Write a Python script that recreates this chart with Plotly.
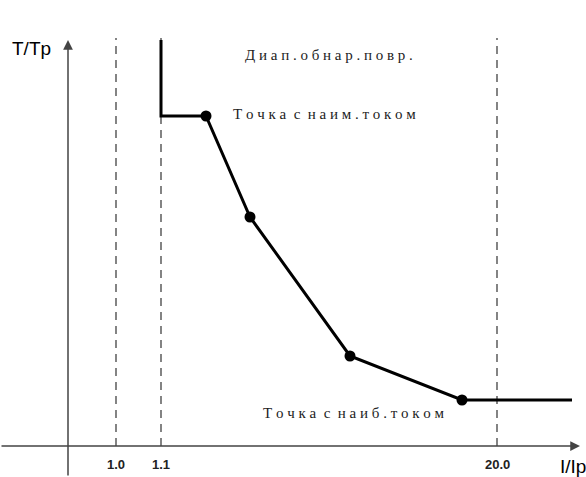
import plotly.graph_objects as go

# schematic coordinates (origin at the axes crossing)
tick_pos = [48, 93, 429]
tick_text = ["1.0", "1.1", "20.0"]

curve_x = [93, 93, 138, 182, 282, 394, 504]
curve_y = [406, 330, 330, 229, 90, 46, 46]

pts_x = [138, 182, 282, 394]
pts_y = [330, 229, 90, 46]

dash_top = 408

NB = "\u00a0"
def spaced(s):
    return NB.join(s)

labels = [
    dict(x=261, y=391, text=spaced("Диап.обнар.повр.")),
    dict(x=256, y=332, text=spaced("Точка") + NB * 2 + spaced("с") + NB * 2 + spaced("наим.током")),
    dict(x=285, y=33, text=spaced("Точка") + NB * 2 + spaced("с") + NB * 2 + spaced("наиб.током")),
]

fig = go.Figure()

# dashed vertical guides
for xp in tick_pos:
    fig.add_trace(go.Scatter(x=[xp, xp], y=[0, dash_top], mode="lines",
                             line=dict(color="#333", width=1.2, dash="8px,6px"),
                             hoverinfo="skip", showlegend=False))

fig.add_trace(go.Scatter(x=curve_x, y=curve_y, mode="lines",
                         line=dict(color="black", width=3),
                         showlegend=False))
fig.add_trace(go.Scatter(x=pts_x, y=pts_y, mode="markers",
                         marker=dict(color="black", size=11),
                         showlegend=False))

annots = []
# axes with arrows
annots.append(dict(x=512, y=0, ax=-68, ay=0, xref="x", yref="y", axref="x", ayref="y",
                   text="", showarrow=True, arrowhead=2, arrowsize=1.3, arrowwidth=1.5,
                   arrowcolor="#444"))
annots.append(dict(x=0, y=406, ax=0, ay=-31, xref="x", yref="y", axref="x", ayref="y",
                   text="", showarrow=True, arrowhead=2, arrowsize=1.3, arrowwidth=1.5,
                   arrowcolor="#444"))

for xp, t in zip(tick_pos, tick_text):
    annots.append(dict(x=xp, y=-18, text="<b>" + t + "</b>", showarrow=False,
                       font=dict(family="Liberation Sans Narrow, Arial", size=13, color="#222")))

annots.append(dict(x=-37, y=398, text="T/Tp", showarrow=False,
                   font=dict(family="Liberation Sans, Arial", size=19, color="black")))
annots.append(dict(x=505, y=-20, text="I/Ip", showarrow=False,
                   font=dict(family="Liberation Sans, Arial", size=19, color="black")))

for lb in labels:
    annots.append(dict(x=lb["x"], y=lb["y"], text=lb["text"], showarrow=False,
                       font=dict(family="Liberation Serif, serif", size=15, color="#222")))

fig.update_layout(
    width=586, height=477,
    margin=dict(l=0, r=0, t=0, b=0),
    plot_bgcolor="white", paper_bgcolor="white",
    xaxis=dict(range=[-68, 518], visible=False, fixedrange=True),
    yaxis=dict(range=[-31, 446], visible=False, fixedrange=True),
    annotations=annots,
)

fig.write_html("out.html", config={"displayModeBar": False},
               post_script="document.body.style.margin='0';")
